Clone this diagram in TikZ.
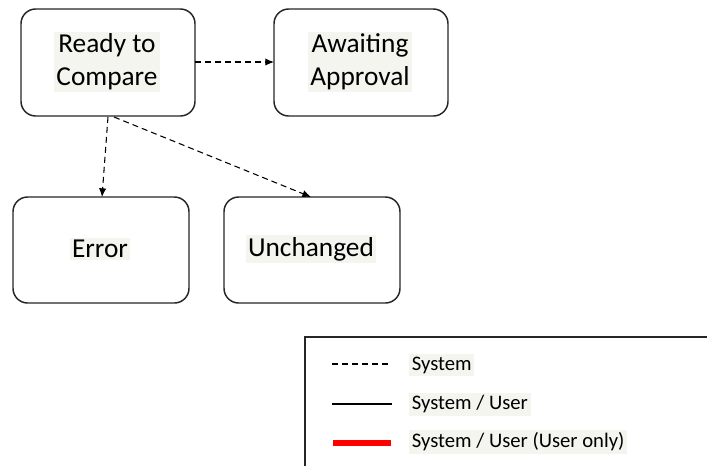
\documentclass[tikz,border=0pt]{standalone}
\usepackage{fontspec}
\setmainfont{Carlito}
\usetikzlibrary{arrows.meta}
\definecolor{hl}{HTML}{F3F5EE}
\definecolor{edge}{HTML}{262626}
\tikzset{
  statebox/.style={draw=edge, line width=1.1pt, rounded corners=11pt, fill=white},
  statetxt/.style={font=\fontsize{20.5}{24.75}\selectfont, align=center, fill=hl, inner sep=1.5pt},
  sysarrow/.style={draw=black, line width=0.8pt, dash pattern=on 4.5pt off 3pt, -{Latex[length=6.5pt,width=5.5pt]}},
  legtxt/.style={font=\fontsize{15.5}{18}\selectfont, anchor=west, fill=hl, inner sep=2pt}
}
\begin{document}
\begin{tikzpicture}[x=0.75pt,y=-0.75pt]
\useasboundingbox (0,0) rectangle (707,465);
% boxes
\draw[statebox] (21,9) rectangle (195,116);
\draw[statebox] (274,9) rectangle (448,116);
\draw[statebox] (13,197) rectangle (189,303);
\draw[statebox] (224,197) rectangle (400,303);
% texts
\node[statetxt] (rtc) at (107,62) {Ready to\\Compare};
\node[statetxt] (aa) at (360,62) {Awaiting\\Approval};
\node[statetxt] (err) at (100,249) {Error};
\node[statetxt] (unc) at (311,249) {Unchanged};
% anchor coordinates on box borders
\coordinate (rtcE) at (195,62);
\coordinate (aaW) at (274,62);
\coordinate (rtcS1) at (108,117);
\coordinate (rtcS2) at (114,117);
\coordinate (errN) at (102,197);
\coordinate (uncN) at (311,197);
\draw[sysarrow] (rtcE) -- (aaW);
\draw[sysarrow] (rtcS1) -- (errN);
\draw[sysarrow] (rtcS2) -- (uncN);
% legend
\draw[draw=edge, line width=0.8pt] (305,470) -- (305,337) -- (712,337);
\coordinate (l1a) at (332,364); \coordinate (l1b) at (392,364);
\coordinate (l2a) at (332,404); \coordinate (l2b) at (392,404);
\coordinate (l3a) at (333,443); \coordinate (l3b) at (391,443);
\draw[line width=0.8pt, dash pattern=on 4.5pt off 3pt] (l1a) -- (l1b);
\draw[line width=0.8pt] (l2a) -- (l2b);
\draw[red, line width=5pt] (l3a) -- (l3b);
\node[legtxt] (lg1) at (409,365) {System};
\node[legtxt] (lg2) at (409,404) {System / User};
\node[legtxt] (lg3) at (409,442) {System / User (User only)};
\end{tikzpicture}
\end{document}
